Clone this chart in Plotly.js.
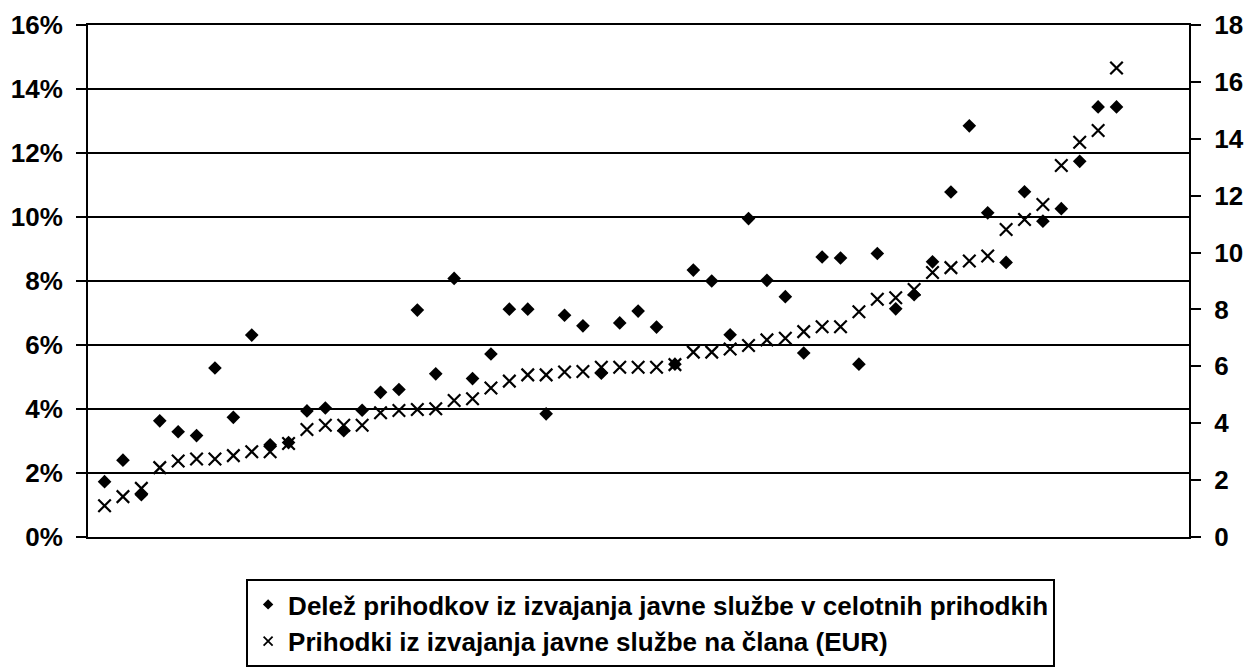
<!DOCTYPE html>
<html>
<head>
<meta charset="utf-8">
<script src="https://cdn.plot.ly/plotly-3.0.1.min.js"></script>
<style>html,body{margin:0;padding:0;background:#fff;}#chart{width:1246px;height:668px;}</style>
</head>
<body>
<div id="chart"></div>
<script>
// Category positions (units sorted by revenue per member)
const units = [1,2,3,4,5,6,7,8,9,10,11,12,13,14,15,16,17,18,19,20,21,22,23,24,25,26,27,28,
  29,30,31,32,33,34,35,36,37,38,39,40,41,42,43,44,45,46,47,48,49,50,51,52,53,54,55,56];

// Share of public-service revenue in total revenue (%)
const sharePct = [1.73,2.40,1.32,3.63,3.29,3.17,5.28,3.74,6.31,2.88,2.95,3.94,4.03,3.32,3.96,4.52,
  4.61,7.09,5.10,8.08,4.95,5.72,7.12,7.12,3.85,6.93,6.60,5.12,6.69,7.06,6.56,5.40,
  8.34,8.00,6.32,9.95,8.02,7.51,5.75,8.75,8.72,5.40,8.86,7.13,7.57,8.60,
  10.78,12.85,10.13,8.58,10.79,9.87,10.26,11.74,13.44,13.44];

// Public-service revenue per member (EUR)
const perMember = [1.10,1.42,1.71,2.44,2.67,2.74,2.74,2.86,3.00,3.00,3.29,3.78,3.93,3.93,3.93,4.37,
  4.45,4.48,4.51,4.80,4.86,5.24,5.48,5.70,5.70,5.80,5.82,5.97,5.97,5.97,5.97,6.06,
  6.50,6.50,6.61,6.73,6.93,6.99,7.22,7.39,7.39,7.92,8.36,8.41,8.70,9.30,
  9.47,9.70,9.88,10.81,11.16,11.69,13.06,13.88,14.29,16.49];

const seriesNames = [
  'Delež prihodkov iz izvajanja javne službe v celotnih prihodkih',
  'Prihodki iz izvajanja javne službe na člana (EUR)'
];

const FONT = 'Liberation Sans, Arial, sans-serif';
const tickFont = {family: FONT, size: 26, weight: 'bold', color: '#000'};

const traces = [
  {
    x: units, y: sharePct.map(v => v / 100), name: seriesNames[0],
    type: 'scatter', mode: 'markers', yaxis: 'y', showlegend: false,
    marker: {symbol: 'diamond', size: 10.5, color: '#000'}
  },
  {
    x: units, y: perMember, name: seriesNames[1],
    type: 'scatter', mode: 'markers', yaxis: 'y2', showlegend: false,
    marker: {symbol: 'x-thin', size: 12.5, color: '#000', line: {color: '#000', width: 2.2}}
  },
  // legend entries (smaller symbols, as in the original legend)
  {
    x: [null], y: [null], name: seriesNames[0], type: 'scatter', mode: 'markers', yaxis: 'y',
    marker: {symbol: 'diamond', size: 8, color: '#000'}
  },
  {
    x: [null], y: [null], name: seriesNames[1], type: 'scatter', mode: 'markers', yaxis: 'y2',
    marker: {symbol: 'x-thin', size: 9, color: '#000', line: {color: '#000', width: 1.8}}
  }
];

const layout = {
  width: 1246, height: 668,
  margin: {l: 88, r: 57, t: 25, b: 131, autoexpand: false},
  paper_bgcolor: '#fff', plot_bgcolor: '#fff',
  font: {family: FONT, color: '#000'},
  showlegend: true,
  xaxis: {
    range: [0.10, 59.94], showgrid: false, zeroline: false,
    showticklabels: false, ticks: '',
    showline: true, linecolor: '#000', linewidth: 2, mirror: true
  },
  yaxis: {
    range: [0, 0.16], dtick: 0.02, tickformat: '.0%',
    showgrid: true, gridcolor: '#000', gridwidth: 2, zeroline: false,
    showline: true, linecolor: '#000', linewidth: 2,
    ticks: 'outside', ticklen: 10, tickwidth: 2, tickcolor: '#000',
    ticklabelstandoff: 8,
    tickfont: tickFont
  },
  yaxis2: {
    range: [0, 18], dtick: 2, overlaying: 'y', side: 'right',
    showgrid: false, zeroline: false,
    showline: true, linecolor: '#000', linewidth: 2,
    ticks: 'outside', ticklen: 10, tickwidth: 2, tickcolor: '#000',
    ticklabelstandoff: 8,
    tickfont: tickFont
  },
  yaxis3: {
    range: [0, 18], dtick: 2, overlaying: 'y', side: 'right',
    showgrid: false, zeroline: false, showline: false, showticklabels: false,
    ticks: 'inside', ticklen: 8, tickwidth: 2, tickcolor: '#000'
  },
  legend: {
    x: 0.511, xanchor: 'center', y: -0.082, yanchor: 'top',
    bgcolor: '#fff', bordercolor: '#000', borderwidth: 2,
    font: {family: FONT, size: 26, weight: 'bold', color: '#000'},
    itemsizing: 'trace', itemwidth: 30
  }
};

Plotly.newPlot('chart', traces, layout, {displayModeBar: false, staticPlot: true});
</script>
</body>
</html>
